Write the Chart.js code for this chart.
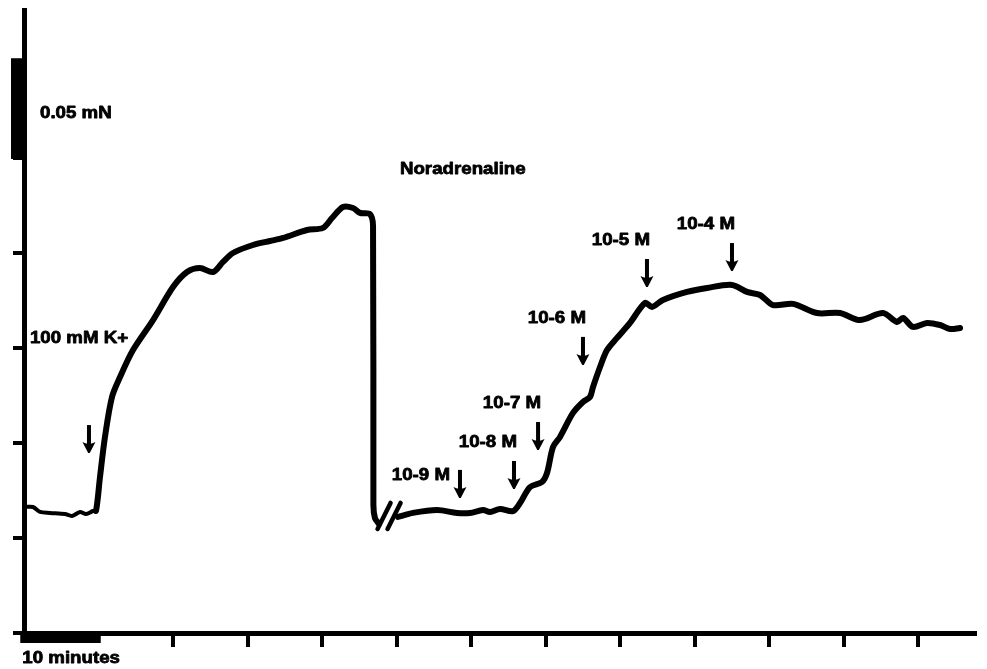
<!DOCTYPE html>
<html><head><meta charset="utf-8">
<script src="https://cdn.jsdelivr.net/npm/chart.js@4/dist/chart.umd.min.js"></script>
<style>html,body{margin:0;padding:0;background:#fff;overflow:hidden}#wrap{width:987px;height:669px;position:relative}</style>
</head><body><div id="wrap"><canvas id="c" width="987" height="669"></canvas></div>
<script>
// ---- data (time in minutes, tension in mN) ----
const traceTimes = [0.00,1.21,2.15,3.49,5.50,6.44,7.52,8.32,9.26,9.66,10.20,10.87,11.81,12.89,14.63,17.32,20.00,21.88,23.62,25.37,26.71,28.05,30.74,33.02,34.77,37.99,40.13,41.34,42.82,44.16,45.10,46.44,46.85,46.90,47.11,47.65,
  48.90,
  50.20,52.21,55.44,58.12,59.87,61.61,62.55,63.89,65.64,66.58,67.92,69.53,70.20,71.01,71.95,73.69,75.03,75.97,76.38,77.32,78.26,79.60,81.34,83.36,84.30,85.77,88.99,91.68,95.03,97.05,98.79,100.54,103.22,106.44,109.53,112.21,115.30,117.18,117.99,119.33,121.21,122.95,124.30,125.64];
const traceValues = [0.0663,0.0663,0.0637,0.0632,0.0626,0.0616,0.0637,0.0626,0.0642,0.0642,0.0821,0.1032,0.1242,0.1347,0.1489,0.1647,0.1821,0.1900,0.1921,0.1900,0.1953,0.2000,0.2042,0.2063,0.2079,0.2121,0.2132,0.2184,0.2242,0.2237,0.2211,0.2205,0.2142,0.0674,0.0605,0.0574,
  null,
  0.0611,0.0632,0.0647,0.0632,0.0632,0.0647,0.0637,0.0653,0.0642,0.0684,0.0768,0.0795,0.0842,0.0979,0.1032,0.1158,0.1216,0.1242,0.1295,0.1400,0.1489,0.1553,0.1632,0.1737,0.1716,0.1753,0.1795,0.1816,0.1832,0.1795,0.1779,0.1726,0.1732,0.1684,0.1684,0.1647,0.1684,0.1637,0.1658,0.1611,0.1632,0.1621,0.1600,0.1605];

const doseLabels = ['10-9 M','10-8 M','10-7 M','10-6 M','10-5 M','10-4 M'];
const doseTimes = [58.52,65.77,69.00,75.03,83.62,95.03];
const doseArrowTips = [0.0711,0.0758,0.0963,0.1411,0.1821,0.1905];

const kLabel = '100 mM K+';
const kTime = 8.72;
const kArrowTip = 0.0947;

const drugLabel = 'Noradrenaline';
const scaleBarLabel = '0.05 mN';
const scaleBarRange = [0.2495, 0.3025];
const timeBarLabel = '10 minutes';
const timeBarRange = [-0.5, 10.3];
const breakTime = 49.0;
const breakValue = 0.0616;

const xTickStep = 10;
const yTickStep = 0.05;

// ---- annotation placement (styles / offsets) ----
const FONT = 'bold 17px "Liberation Sans", Arial, sans-serif';
const STRETCH = 1.1;
const annot = {
  drug: {t: 58.9, v: 0.2416},
  kLabel: {t: 0.8, v: 0.1526},
  doseLabelSide: ['left','above','above','above','above','above']
};

function txt(ctx, s, x, y, align){
  ctx.save();
  ctx.translate(x, y);
  ctx.scale(STRETCH, 1);
  ctx.textAlign = align || 'left';
  ctx.textBaseline = 'alphabetic';
  ctx.lineWidth = 0.8;
  ctx.strokeStyle = '#000';
  ctx.lineJoin = 'round';
  ctx.fillText(s, 0, 0);
  ctx.strokeText(s, 0, 0);
  ctx.restore();
}
function arrow(ctx, x, tip){
  ctx.save();
  ctx.fillStyle = '#000';
  ctx.fillRect(x - 2, tip - 28, 4, 20);
  ctx.beginPath();
  ctx.moveTo(x - 6.5, tip - 11);
  ctx.quadraticCurveTo(x - 2, tip - 8.5, x, tip - 9.5);
  ctx.quadraticCurveTo(x + 2, tip - 8.5, x + 6.5, tip - 11);
  ctx.lineTo(x + 0.8, tip);
  ctx.lineTo(x - 0.8, tip);
  ctx.closePath();
  ctx.fill();
  ctx.restore();
}

const overlay = {
  id: 'overlay',
  afterDraw(chart){
    const ctx = chart.ctx, xs = chart.scales.x, ys = chart.scales.y, ca = chart.chartArea;
    ctx.save();
    ctx.fillStyle = '#000';
    ctx.font = FONT;
    // scale bar (0.05 mN)
    const sb1 = ys.getPixelForValue(scaleBarRange[1]), sb0 = ys.getPixelForValue(scaleBarRange[0]);
    ctx.fillRect(ca.left - 13, sb1, 14, sb0 - sb1);
    txt(ctx, scaleBarLabel, ca.left + 16, (sb0 + sb1) / 2 + 9.5, 'left');
    // time bar
    const tb0 = xs.getPixelForValue(timeBarRange[0]), tb1 = xs.getPixelForValue(timeBarRange[1]);
    ctx.fillRect(tb0, ca.bottom, tb1 - tb0, 10);
    txt(ctx, timeBarLabel, tb0 + 2, ca.bottom + 30, 'left');
    // drug label
    txt(ctx, drugLabel, xs.getPixelForValue(annot.drug.t), ys.getPixelForValue(annot.drug.v), 'center');
    // K+ label & arrow
    txt(ctx, kLabel, xs.getPixelForValue(annot.kLabel.t), ys.getPixelForValue(annot.kLabel.v), 'left');
    arrow(ctx, xs.getPixelForValue(kTime), ys.getPixelForValue(kArrowTip));
    // dose arrows & labels
    doseLabels.forEach((lab, i) => {
      const x = xs.getPixelForValue(doseTimes[i]);
      const tip = ys.getPixelForValue(doseArrowTips[i]);
      arrow(ctx, x, tip);
      if (annot.doseLabelSide[i] === 'left') txt(ctx, lab, x - 10, tip - 18, 'right');
      else txt(ctx, lab, x + 3, tip - 42, 'right');
    });
    // break marks
    const bx = xs.getPixelForValue(breakTime), by = ys.getPixelForValue(breakValue);
    ctx.strokeStyle = '#000';
    ctx.lineWidth = 4.5;
    ctx.lineCap = 'round';
    [-5, 5].forEach(dx => {
      ctx.beginPath();
      ctx.moveTo(bx + dx - 6.5, by + 13);
      ctx.lineTo(bx + dx + 6.5, by - 13);
      ctx.stroke();
    });
    ctx.restore();
  }
};

new Chart(document.getElementById('c'), {
  type: 'line',
  data: {
    datasets: [{
      data: traceTimes.map((t, i) => ({x: t, y: traceValues[i]})),
      borderColor: '#000',
      borderWidth: 6,
      borderCapStyle: 'round',
      borderJoinStyle: 'round',
      pointRadius: 0,
      tension: 0.3,
      spanGaps: false,
      segment: { borderWidth: c => (c.p1.parsed.x <= 9.7 ? 4 : 6) }
    }]
  },
  options: {
    responsive: false,
    animation: false,
    events: [],
    layout: { autoPadding: false, padding: {left: 0, top: 10, right: 12, bottom: 0} },
    plugins: { legend: {display: false}, tooltip: {enabled: false} },
    scales: {
      x: {
        type: 'linear', min: 0, max: 127.65,
        afterFit: s => { s.height = 36; },
        border: {display: true, color: '#000', width: 5},
        grid: {display: true, drawOnChartArea: false, drawTicks: true, tickLength: 14, lineWidth: 4,
               color: c => (c.tick && c.tick.value < 15 ? 'rgba(0,0,0,0)' : '#000')},
        ticks: {display: false, stepSize: xTickStep, includeBounds: false}
      },
      y: {
        type: 'linear', min: 0, max: 0.32789,
        afterFit: s => { s.width = 24; },
        border: {display: true, color: '#000', width: 5},
        grid: {display: true, drawOnChartArea: false, drawTicks: true, tickLength: 11, lineWidth: 4, color: '#000'},
        ticks: {display: false, stepSize: yTickStep, includeBounds: false}
      }
    }
  },
  plugins: [overlay]
});
</script>
</body></html>
